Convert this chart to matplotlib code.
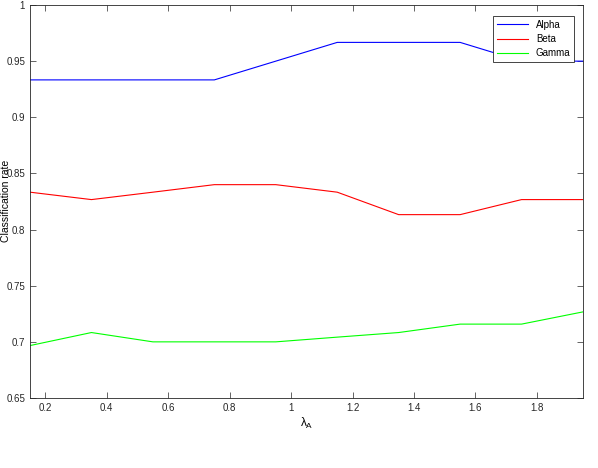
import matplotlib
matplotlib.use("Agg")
import matplotlib.pyplot as plt

lam = [0.15, 0.35, 0.55, 0.75, 0.95, 1.15, 1.35, 1.55, 1.75, 1.95]
alpha = [0.9333, 0.9333, 0.9333, 0.9333, 0.95, 0.9667, 0.9667, 0.9667, 0.95, 0.95]
beta = [0.8333, 0.8267, 0.8333, 0.84, 0.84, 0.8333, 0.8133, 0.8133, 0.8267, 0.8267]
gamma = [0.6967, 0.7083, 0.70, 0.70, 0.70, 0.7042, 0.7083, 0.7158, 0.7158, 0.7267]
xticks = [0.2, 0.4, 0.6, 0.8, 1.0, 1.2, 1.4, 1.6, 1.8]
xticklabels = ["0.2", "0.4", "0.6", "0.8", "1", "1.2", "1.4", "1.6", "1.8"]
yticks = [0.65, 0.7, 0.75, 0.8, 0.85, 0.9, 0.95, 1.0]
yticklabels = ["0.65", "0.7", "0.75", "0.8", "0.85", "0.9", "0.95", "1"]

plt.rcParams['font.family'] = ['Liberation Sans', 'DejaVu Sans']
fig = plt.figure(figsize=(5.98, 4.68), dpi=100)
ax = fig.add_axes([30/598, 1-398/468, 553/598, 393/468])
ax.plot(lam, alpha, color=(0, 0, 1), lw=0.8, label="Alpha")
ax.plot(lam, beta, color=(1, 0, 0), lw=0.8, label="Beta")
ax.plot(lam, gamma, color=(0, 1, 0), lw=0.8, label="Gamma")
ax.set_xlim(0.15, 1.95)
ax.set_ylim(0.65, 1.0)
ax.set_xticks(xticks)
ax.set_xticklabels(xticklabels)
ax.set_yticks(yticks)
ax.set_yticklabels(yticklabels)
ax.tick_params(direction='in', labelsize=7, length=4, width=0.5, top=True, right=True, colors='#262626')
for s in ax.spines.values():
    s.set_linewidth(0.6)
    s.set_color('#262626')
ax.set_xlabel(r"$\mathregular{\lambda_A}$", fontsize=8.5, labelpad=2)
fig.text(1/598, 1-201/468, "Classification rate", rotation=90, fontsize=7.5,
         va='center', ha='left', color='black')
leg = ax.legend(loc='upper right', fontsize=7, fancybox=False, edgecolor='#262626',
                handlelength=3.2, borderpad=0.4, labelspacing=0.45, framealpha=1,
                bbox_to_anchor=(0.993, 0.985))
leg.get_frame().set_linewidth(0.6)
fig.savefig("out.png", dpi=100)
